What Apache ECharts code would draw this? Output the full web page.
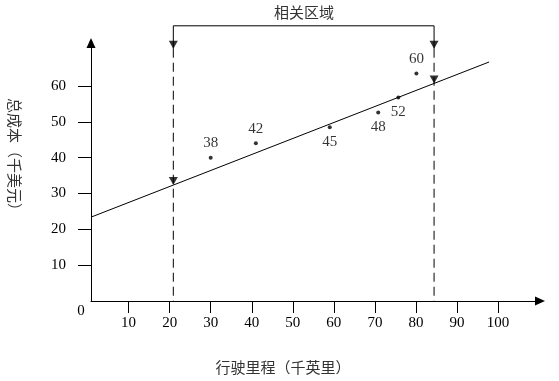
<!DOCTYPE html>
<html><head><meta charset="utf-8">
<script src="https://cdn.jsdelivr.net/npm/echarts@6/dist/echarts.min.js"></script>
<style>html,body{margin:0;padding:0;background:#fff}#c{width:559px;height:381px}</style>
</head><body><div id="c"></div>
<script>
// ---- data ----
const pointX = [30, 41, 59, 70.8, 75.7, 80.1];
const pointY = [40, 44, 48.5, 52.6, 56.8, 63.5];
const pointLabels = ['38', '42', '45', '48', '52', '60'];
const labelSides = ['top', 'top', 'bottom', 'bottom', 'bottom', 'top'];
const regX = [0.85, 97.8];
const regY = [23.4, 66.7];
const rangeX = [20.9, 84.4];
const rangeArrowTopY = 70.4;
const rangeBracketY = 76.8;
const xTicks = [10, 20, 30, 40, 50, 60, 70, 80, 90, 100];
const yTicks = [10, 20, 30, 40, 50, 60];
const originLabel = '0';
const titleText = '相关区域';
const xName = '行驶里程（千英里）';
const yName = '总成本（千美元）';

const serif = 'Liberation Serif';
const cjk = 'Noto Sans CJK SC';
const slope = (regY[1] - regY[0]) / (regX[1] - regX[0]);
const regAt = x => regY[0] + slope * (x - regX[0]);

const chart = echarts.init(document.getElementById('c'), null, {renderer: 'canvas'});
chart.setOption({
  animation: false,
  grid: {left: 91, right: 19, top: 43, bottom: 80},
  xAxis: {
    type: 'value', min: 0.85, max: 110.2,
    splitLine: {show: false},
    axisLine: {show: true, lineStyle: {color: '#000', width: 1}, symbol: ['none', 'triangle'], symbolSize: [9, 10]},
    axisTick: {show: true, length: 12, lineStyle: {color: '#000'}, customValues: xTicks},
    axisLabel: {customValues: xTicks, color: '#000', fontFamily: serif, fontSize: 15, margin: 15}
  },
  yAxis: {
    type: 'value', min: 0, max: 72,
    splitLine: {show: false},
    axisLine: {show: true, lineStyle: {color: '#000', width: 1}, symbol: ['none', 'triangle'], symbolSize: [9, 10]},
    axisTick: {show: true, length: 13, lineStyle: {color: '#000'}, customValues: yTicks},
    axisLabel: {customValues: yTicks, color: '#000', fontFamily: serif, fontSize: 15, margin: 25}
  },
  series: [
    {
      type: 'line', data: regX.map((x, i) => [x, regY[i]]), symbol: 'none', silent: true,
      lineStyle: {color: '#000', width: 1}
    },
    {
      type: 'line', clip: false, symbol: 'none', silent: true,
      data: [[rangeX[0], rangeArrowTopY], [rangeX[0], rangeBracketY], [rangeX[1], rangeBracketY], [rangeX[1], rangeArrowTopY]],
      lineStyle: {color: '#000', width: 1}
    },
    {
      type: 'line', symbol: 'none', silent: true, clip: false,
      data: [[rangeX[0], rangeArrowTopY], [rangeX[0], 0]],
      lineStyle: {color: '#000', width: 1, type: [9, 5]}
    },
    {
      type: 'line', symbol: 'none', silent: true, clip: false,
      data: [[rangeX[1], rangeArrowTopY], [rangeX[1], 0]],
      lineStyle: {color: '#000', width: 1, type: [9, 5]}
    },
    {
      type: 'scatter', silent: true, clip: false,
      symbol: 'triangle', symbolRotate: 180, symbolSize: [9, 8], symbolOffset: [0, -4],
      itemStyle: {color: '#000'},
      data: [[rangeX[0], rangeArrowTopY], [rangeX[1], rangeArrowTopY], [rangeX[0], regAt(rangeX[0])], [rangeX[1], regAt(rangeX[1])]]
    },
    {
      type: 'scatter', silent: true, symbolSize: 4, itemStyle: {color: '#000'},
      data: pointX.map((x, i) => ({
        value: [x, pointY[i]],
        label: {show: true, position: labelSides[i], distance: 5, formatter: pointLabels[i],
                color: '#000', fontFamily: serif, fontSize: 15}
      }))
    }
  ],
  graphic: [
    {type: 'text', x: 304, y: 12, style: {text: titleText, font: '15px "' + cjk + '"', fill: '#333', align: 'center', verticalAlign: 'middle'}},
    {type: 'text', x: 283, y: 367, style: {text: xName, font: '15px "' + cjk + '"', fill: '#333', align: 'center', verticalAlign: 'middle'}},
    {type: 'text', x: 15, y: 158, rotation: -Math.PI / 2, style: {text: yName, font: '15px "' + cjk + '"', fill: '#333', align: 'center', verticalAlign: 'middle'}},
    {type: 'text', x: 81, y: 311, style: {text: originLabel, font: '15px "' + serif + '"', fill: '#000', align: 'center', verticalAlign: 'middle'}}
  ]
});
</script></body></html>
